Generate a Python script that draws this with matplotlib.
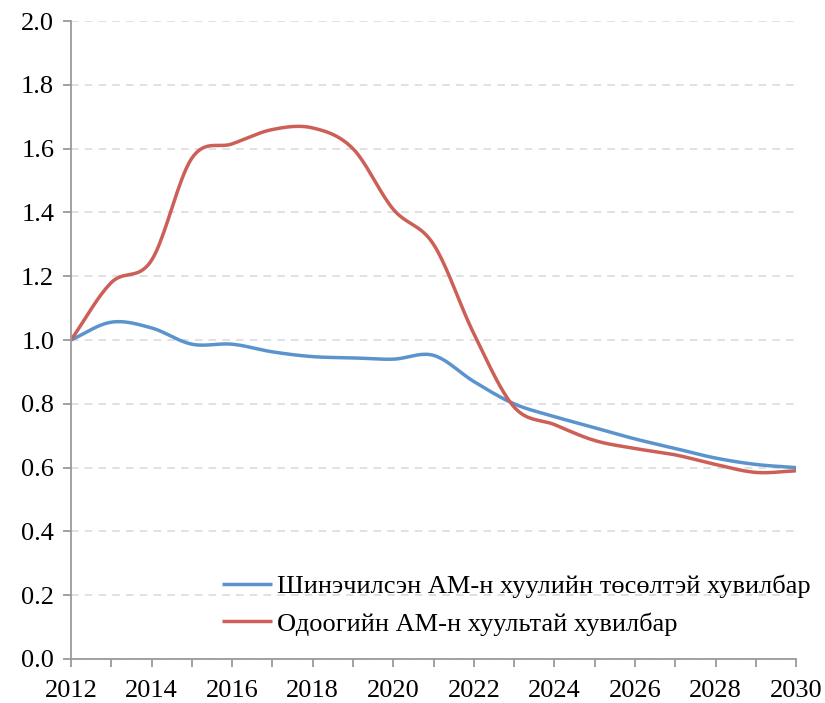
import numpy as np
import matplotlib
matplotlib.use("Agg")
from matplotlib import pyplot as plt

years = list(range(2012, 2031))
new_law = [1.00, 1.056, 1.038, 0.987, 0.987, 0.963, 0.948, 0.944, 0.94, 0.952,
           0.87, 0.80, 0.76, 0.725, 0.69, 0.66, 0.63, 0.61, 0.60]
current_law = [1.00, 1.18, 1.25, 1.57, 1.615, 1.66, 1.665, 1.60, 1.41, 1.30,
               1.02, 0.79, 0.735, 0.685, 0.66, 0.64, 0.61, 0.585, 0.59]
labels = ["Шинэчилсэн АМ-н хуулийн төсөлтэй хувилбар",
          "Одоогийн АМ-н хуультай хувилбар"]
colors = ["#5b94cd", "#cc5f58"]


def smooth(x, y, n=20):
    # catmull-rom style curve like excel's smoothed line
    x = np.asarray(x, float)
    y = np.asarray(y, float)
    px = np.concatenate([[2 * x[0] - x[1]], x, [2 * x[-1] - x[-2]]])
    py = np.concatenate([[2 * y[0] - y[1]], y, [2 * y[-1] - y[-2]]])
    xs, ys = [], []
    t = np.linspace(0, 1, n, endpoint=False)
    for i in range(1, len(px) - 2):
        for p, out in ((px, xs), (py, ys)):
            p0, p1, p2, p3 = p[i - 1], p[i], p[i + 1], p[i + 2]
            out.extend(0.5 * (2 * p1 + (-p0 + p2) * t + (2 * p0 - 5 * p1 + 4 * p2 - p3) * t ** 2
                              + (-p0 + 3 * p1 - 3 * p2 + p3) * t ** 3))
    xs.append(x[-1])
    ys.append(y[-1])
    return xs, ys


plt.rcParams["font.family"] = ["Liberation Serif", "DejaVu Serif"]
fig = plt.figure(figsize=(8.25, 7.03), dpi=100)
ax = fig.add_axes([0.086, 0.0626, 0.879, 0.9074])

for series, label, color in zip([new_law, current_law], labels, colors):
    sx, sy = smooth(years, series)
    ax.plot(sx, sy, color=color, lw=2.5, label=label, solid_capstyle="butt")

ax.set_xlim(2012, 2030)
ax.set_ylim(0, 2.0)
ax.set_xticks(range(2012, 2031, 2))
ax.set_xticks(years, minor=True)
ax.set_yticks(np.arange(0, 2.01, 0.2))
ax.yaxis.set_major_formatter(matplotlib.ticker.FormatStrFormatter("%.1f"))
ax.grid(axis="y", color="#d9d9d9", ls=(0, (5, 4)), lw=1.1)
ax.set_axisbelow(True)

for side in ["top", "right"]:
    ax.spines[side].set_visible(False)
for side in ["left", "bottom"]:
    ax.spines[side].set_color("#9a9a9a")
    ax.spines[side].set_linewidth(1.3)

ax.tick_params(axis="both", which="both", color="#9a9a9a", width=1.3, length=6,
               labelsize=19, direction="out")
ax.tick_params(axis="x", pad=9)
ax.tick_params(axis="y", pad=6)

ax.legend(loc="center left", bbox_to_anchor=(0.208, 0.0847), frameon=False,
          fontsize=19, handlelength=1.9, handletextpad=0.2, labelspacing=0.54,
          borderaxespad=0, borderpad=0)

fig.savefig("out.png", dpi=100)
